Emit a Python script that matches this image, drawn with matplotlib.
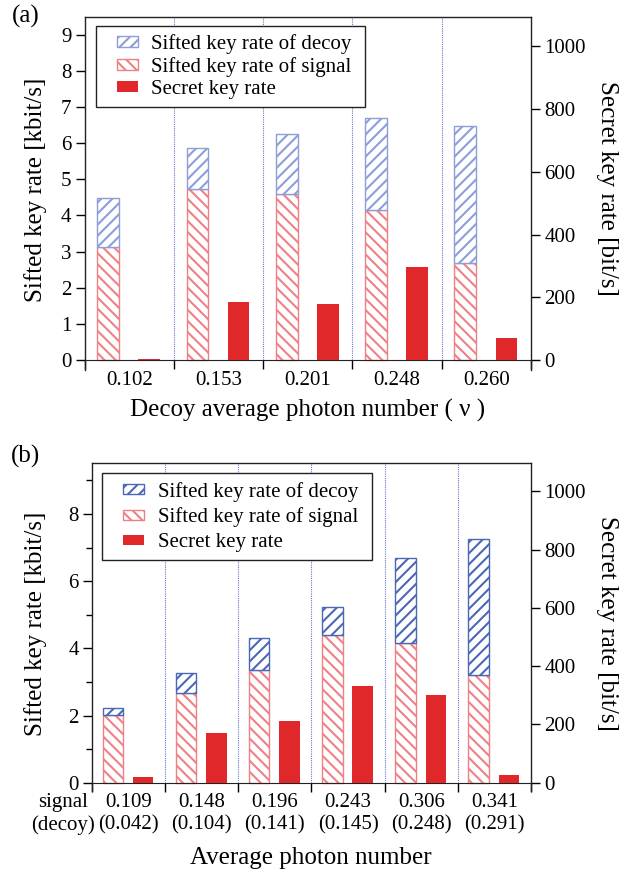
import numpy as np
import matplotlib
matplotlib.use('Agg')
import matplotlib.pyplot as plt
import matplotlib.patches as mpatches
from matplotlib.legend_handler import HandlerPatch

plt.rcParams['font.family'] = ['Liberation Serif', 'DejaVu Serif']
plt.rcParams['hatch.linewidth'] = 1.5

# ---- data ----
# (a) decoy average photon number
a_labels = ['0.102', '0.153', '0.201', '0.248', '0.260']
a_signal = [3.12, 4.74, 4.58, 4.14, 2.69]      # kbit/s
a_decoy = [1.36, 1.12, 1.67, 2.55, 3.77]       # kbit/s, stacked on signal
a_secret = [3, 184, 179, 298, 69]              # bit/s

# (b) signal (decoy) average photon number
b_labels = ['0.109\n(0.042)', '0.148\n(0.104)', '0.196\n(0.141)',
            '0.243\n(0.145)', '0.306\n(0.248)', '0.341\n(0.291)']
b_signal = [2.01, 2.67, 3.37, 4.41, 4.17, 3.21]
b_decoy = [0.20, 0.59, 0.93, 0.81, 2.52, 4.04]
b_secret = [18, 169, 213, 333, 300, 26]

SIG = '#ef8085'
DEC_A = '#8d9ed8'
DEC_B = '#4b68b6'
SEC = '#e0282b'
GRID = '#6a78c8'

W, H = 621, 875
fig = plt.figure(figsize=(W / 100, H / 100), dpi=100)


def fx(px):
    return px / W


def fy(py):
    return 1 - py / H


def right_handle(legend, orig_handle, xdescent, ydescent, width, height, fontsize):
    w, h = fontsize * 1.0, fontsize * 0.5
    return mpatches.Rectangle((-xdescent + width - w, -ydescent + (height - h) / 2), w, h)


def panel(left, right, top, bottom, ylim, labels, signal, decoy, secret,
          dec_color, off_sig, off_sec, bw, lmajor, lminor, leg_xy, tick_pad, lspace):
    ax = fig.add_axes([fx(left), fy(bottom), fx(right - left), (bottom - top) / H])
    ax2 = ax.twinx()
    n = len(labels)
    x = np.arange(n)
    k = 1000 / 8.677

    ax.set_xlim(-0.5, n - 0.5)
    ax.set_ylim(*ylim)
    ax2.set_ylim(ylim[0] * k, ylim[1] * k)

    ax.vlines(np.arange(0.5, n - 0.5), 0, ylim[1], colors=GRID,
              linestyles=(0, (1, 1)), lw=0.8, zorder=0)

    b1 = ax.bar(x + off_sig, signal, bw, color='white', edgecolor=SIG,
                hatch='\\\\\\', lw=1, zorder=2)
    b2 = ax.bar(x + off_sig, decoy, bw, bottom=signal, color='white',
                edgecolor=dec_color, hatch='///', lw=1, zorder=2)
    b3 = ax2.bar(x + off_sec, secret, bw, color=SEC, lw=0, zorder=2)

    # spines
    for s in ['top', 'left']:
        ax.spines[s].set_linewidth(1.0)
        ax.spines[s].set_color('#222222')
    ax.spines['right'].set_visible(False)
    ax.spines['bottom'].set_position(('data', 0))
    ax.spines['bottom'].set_color('#222222')
    for s in ['top', 'left', 'bottom']:
        ax2.spines[s].set_visible(False)
    ax2.spines['right'].set_linewidth(1.0)
    ax2.spines['right'].set_color('#222222')

    # x ticks: marks at boundaries, labels at centres
    ax.set_xticks(np.arange(-0.5, n))
    ax.set_xticklabels([])
    ax.set_xticks(x, labels, minor=True)
    ax.tick_params(axis='x', which='major', direction='out', length=6.5, width=1)
    ax.tick_params(axis='x', which='minor', length=0, pad=tick_pad, labelsize=15)

    ax.set_yticks(lmajor)
    if lminor:
        ax.set_yticks(lminor, minor=True)
    ax.tick_params(axis='y', which='major', direction='out', length=6.5, width=1,
                   labelsize=15, pad=3)
    ax.tick_params(axis='y', which='minor', direction='out', length=4, width=1)
    ax2.set_yticks(range(0, 1001, 200))
    ax2.tick_params(axis='y', direction='out', length=6.5, width=1, labelsize=15, pad=3)

    leg = ax2.legend([b2[0], b1[0], b3[0]],
                     ['Sifted key rate of decoy ', 'Sifted key rate of signal ',
                      'Secret key rate'],
                     loc='upper left', bbox_to_anchor=(fx(leg_xy[0]), fy(leg_xy[1])),
                     bbox_transform=fig.transFigure, borderaxespad=0,
                     fontsize=15, frameon=True, fancybox=False, framealpha=1,
                     edgecolor='#222222', borderpad=0.4, labelspacing=lspace,
                     handlelength=1.6, handleheight=0.5, handletextpad=0.66,
                     handler_map={mpatches.Rectangle: HandlerPatch(patch_func=right_handle)})
    leg.get_frame().set_linewidth(1.0)
    return ax, ax2


# ---- panel (a) ----
panel(84.5, 531, 17.3, 369.8, (-0.27, 9.48), a_labels, a_signal, a_decoy, a_secret,
      DEC_A, -0.235, 0.225, 0.245, range(0, 10), None, (96, 25.7), 8.2, 0.15)
fig.text(fx(26), fy(16), '(a)', fontsize=18, ha='center', va='center')
fig.text(fx(36), fy(190), 'Sifted key rate [kbit/s]', fontsize=18, rotation=90,
         ha='center', va='center')
fig.text(fx(607), fy(188), 'Secret key rate [bit/s]', fontsize=18, rotation=270,
         ha='center', va='center')
fig.text(fx(308), fy(410), 'Decoy average photon number ( \u03bd )', fontsize=18,
         ha='center', va='center')

# ---- panel (b) ----
panel(92, 531, 463.3, 791.1, (-0.25, 9.51), b_labels, b_signal, b_decoy, b_secret,
      DEC_B, -0.215, 0.20, 0.28, range(0, 9, 2), range(1, 10, 2), (102.3, 473.3), 7.4, 0.28)
fig.text(fx(25), fy(456), '(b)', fontsize=18, ha='center', va='center')
fig.text(fx(63.5), fy(814), 'signal\n(decoy)', fontsize=15, ha='center', va='center',
         multialignment='center')
fig.text(fx(36), fy(624), 'Sifted key rate [kbit/s]', fontsize=18, rotation=90,
         ha='center', va='center')
fig.text(fx(607), fy(623), 'Secret key rate [bit/s]', fontsize=18, rotation=270,
         ha='center', va='center')
fig.text(fx(311), fy(858), 'Average photon number', fontsize=18,
         ha='center', va='center')

fig.savefig('out.png', dpi=100)
